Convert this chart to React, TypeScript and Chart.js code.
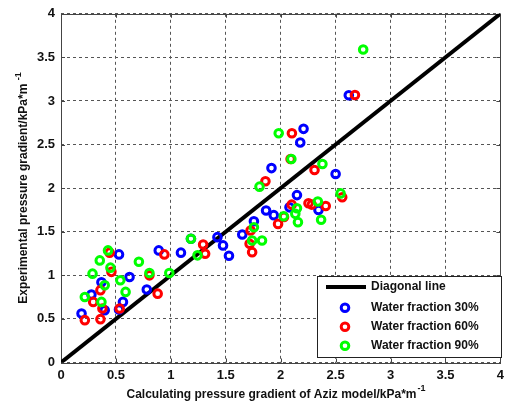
import React, { useEffect, useRef } from "react";
import { Chart, registerables } from "chart.js";

Chart.register(...registerables);

// ---- Data ----
const blueX = [0.187, 0.277, 0.368, 0.398, 0.528, 0.564, 0.528, 0.624, 0.781, 0.89, 1.092, 1.183, 1.424, 1.475, 1.529, 1.65, 1.756, 1.867, 1.937, 2.08, 2.148, 2.344, 1.916, 2.5, 2.178, 2.208, 2.62];
const blueY = [0.562, 0.78, 0.92, 0.6, 0.608, 0.695, 1.24, 0.98, 0.837, 1.286, 1.26, 1.42, 1.438, 1.343, 1.225, 1.469, 1.62, 1.743, 1.69, 1.78, 1.92, 1.75, 2.23, 2.162, 2.524, 2.68, 3.065];

const redX = [0.217, 0.359, 0.293, 0.377, 0.534, 0.359, 0.459, 0.443, 0.805, 0.88, 0.941, 1.294, 1.312, 1.717, 1.74, 1.726, 1.976, 2.03, 2.1, 2.253, 2.283, 2.41, 2.56, 2.308, 1.861, 2.09, 2.102, 2.676];
const redY = [0.486, 0.497, 0.695, 0.62, 0.62, 0.83, 1.04, 1.26, 1.0, 0.79, 1.24, 1.354, 1.248, 1.362, 1.266, 1.514, 1.59, 1.67, 1.811, 1.826, 1.811, 1.795, 1.895, 2.208, 2.08, 2.334, 2.63, 3.069];

const greenX = [0.217, 0.368, 0.398, 0.287, 0.353, 0.428, 0.45, 0.54, 0.588, 0.709, 0.805, 0.986, 1.183, 1.243, 1.74, 1.83, 1.756, 1.807, 1.982, 2.097, 2.027, 2.133, 2.148, 2.157, 2.338, 2.368, 2.38, 2.545, 2.751];
const greenY = [0.752, 0.695, 0.886, 1.019, 1.171, 1.286, 1.088, 0.943, 0.81, 1.155, 1.026, 1.026, 1.42, 1.229, 1.4, 1.4, 1.552, 2.017, 2.63, 2.334, 1.678, 1.705, 1.77, 1.61, 1.846, 1.637, 2.277, 1.94, 3.59];

const diagonalX = [0, 4];
const diagonalY = [0, 4];

const axisMin = 0;
const axisMax = 4;
const tickStep = 0.5;

const xTitle = "Calculating pressure gradient of Aziz model/kPa*m";
const yTitle = "Experimental pressure gradient/kPa*m";
const titleSup = "-1";
const legendLabels = ["Diagonal line", "Water fraction 30%", "Water fraction 60%", "Water fraction 90%"];
const seriesColors = ["#0000ff", "#ff0000", "#00ff00"];

const FONT = "'Liberation Sans', Arial, Helvetica, sans-serif";

const toPts = (xs: number[], ys: number[]) => xs.map((x, i) => ({ x, y: ys[i] }));
const fmtTick = (v: any) => String(Number(v));

const decorPlugin = {
  id: "decor",
  beforeDatasetsDraw(chart: any) {
    const { ctx, chartArea: a, scales } = chart;
    ctx.save();
    // inner tick marks
    ctx.strokeStyle = "#444";
    ctx.lineWidth = 1;
    ctx.setLineDash([]);
    const tl = 4;
    for (let v = axisMin; v <= axisMax + 1e-9; v += tickStep) {
      const px = Math.round(scales.x.getPixelForValue(v)) + 0.5;
      const py = Math.round(scales.y.getPixelForValue(v)) + 0.5;
      ctx.beginPath();
      ctx.moveTo(px, a.bottom);
      ctx.lineTo(px, a.bottom - tl);
      ctx.moveTo(px, a.top);
      ctx.lineTo(px, a.top + tl);
      ctx.moveTo(a.left, py);
      ctx.lineTo(a.left + tl, py);
      ctx.moveTo(a.right, py);
      ctx.lineTo(a.right - tl, py);
      ctx.stroke();
    }
    // frame
    ctx.strokeStyle = "#444";
    ctx.strokeRect(Math.round(a.left) + 0.5, Math.round(a.top) + 0.5, Math.round(a.right - a.left), Math.round(a.bottom - a.top));
    ctx.restore();
  },
  afterDatasetsDraw(chart: any) {
    const { ctx } = chart;
    ctx.save();
    // legend box
    const lx = 317.5, ly = 276.5, lw = 184, lh = 81;
    ctx.fillStyle = "#fff";
    ctx.fillRect(lx, ly, lw, lh);
    ctx.strokeStyle = "#222";
    ctx.lineWidth = 1;
    ctx.strokeRect(lx, ly, lw, lh);
    const rows = [287, 307.7, 326.7, 345.7];
    // diagonal sample
    ctx.strokeStyle = "#000";
    ctx.lineWidth = 4;
    ctx.beginPath();
    ctx.moveTo(326, rows[0]);
    ctx.lineTo(366, rows[0]);
    ctx.stroke();
    for (let i = 0; i < 3; i++) {
      ctx.strokeStyle = seriesColors[i];
      ctx.lineWidth = 3;
      ctx.beginPath();
      ctx.arc(345, rows[i + 1], 3.8, 0, Math.PI * 2);
      ctx.stroke();
    }
    ctx.fillStyle = "#111";
    ctx.font = `bold 12px ${FONT}`;
    ctx.textAlign = "left";
    ctx.textBaseline = "middle";
    legendLabels.forEach((t, i) => ctx.fillText(t, 371, rows[i]));

    // x title
    ctx.font = `bold 12px ${FONT}`;
    const mainW = ctx.measureText(xTitle).width;
    ctx.font = `bold 9px ${FONT}`;
    const supW = ctx.measureText(titleSup).width;
    const total = mainW + 1 + supW;
    const startX = 276 - total / 2;
    ctx.font = `bold 12px ${FONT}`;
    ctx.fillText(xTitle, startX, 394.5);
    ctx.font = `bold 9px ${FONT}`;
    ctx.fillText(titleSup, startX + mainW + 1, 389);

    // y title (rotated)
    ctx.save();
    ctx.translate(23.5, 188);
    ctx.rotate(-Math.PI / 2);
    ctx.font = `bold 12px ${FONT}`;
    const yMainW = ctx.measureText(yTitle + " ").width;
    ctx.font = `bold 9px ${FONT}`;
    const ySupW = ctx.measureText(titleSup).width;
    const yStart = -(yMainW + ySupW) / 2;
    ctx.font = `bold 12px ${FONT}`;
    ctx.fillText(yTitle, yStart, 0);
    ctx.font = `bold 9px ${FONT}`;
    ctx.fillText(titleSup, yStart + yMainW, -5);
    ctx.restore();

    ctx.restore();
  },
};

export default function App() {
  const ref = useRef<HTMLCanvasElement | null>(null);

  useEffect(() => {
    if (!ref.current) return;
    document.body.style.margin = "0";
    const pointDs = (label: string, xs: number[], ys: number[], color: string, order: number) => ({
      type: "scatter" as const,
      label,
      data: toPts(xs, ys),
      borderColor: color,
      backgroundColor: "rgba(0,0,0,0)",
      borderWidth: 3,
      pointRadius: 3.8,
      pointHoverRadius: 3.8,
      order,
    });
    const chart = new Chart(ref.current, {
      type: "scatter",
      data: {
        datasets: [
          {
            type: "line" as const,
            label: legendLabels[0],
            data: toPts(diagonalX, diagonalY),
            borderColor: "#000",
            borderWidth: 4,
            pointRadius: 0,
            showLine: true,
            fill: false,
            order: 3,
          } as any,
          pointDs(legendLabels[1], blueX, blueY, seriesColors[0], 2),
          pointDs(legendLabels[2], redX, redY, seriesColors[1], 1),
          pointDs(legendLabels[3], greenX, greenY, seriesColors[2], 0),
        ],
      },
      options: {
        responsive: false,
        animation: false,
        events: [],
        layout: { padding: { top: 12, right: 6, left: 0, bottom: 0 } },
        plugins: { legend: { display: false }, tooltip: { enabled: false } },
        scales: {
          x: {
            type: "linear",
            min: axisMin,
            max: axisMax,
            ticks: {
              stepSize: tickStep,
              autoSkip: false,
              maxRotation: 0,
              padding: 5,
              color: "#111",
              font: { family: FONT, size: 13, weight: "bold" },
              callback: fmtTick,
            },
            grid: { color: "#555", lineWidth: 1, drawTicks: false },
            border: { display: false, dash: [3, 3] },
            afterFit: (s: any) => {
              s.height = 44.5;
            },
          },
          y: {
            type: "linear",
            min: axisMin,
            max: axisMax,
            ticks: {
              stepSize: tickStep,
              autoSkip: false,
              padding: 6,
              color: "#111",
              font: { family: FONT, size: 13, weight: "bold" },
              callback: fmtTick,
            },
            grid: { color: "#555", lineWidth: 1, drawTicks: false },
            border: { display: false, dash: [3, 3] },
            afterFit: (s: any) => {
              s.width = 61;
            },
          },
        },
      } as any,
      plugins: [decorPlugin],
    });
    return () => chart.destroy();
  }, []);

  return (
    <div style={{ position: "fixed", left: 0, top: 0, width: 509, height: 407, background: "#fff" }}>
      <canvas ref={ref} width={509} height={407} style={{ display: "block" }} />
    </div>
  );
}
